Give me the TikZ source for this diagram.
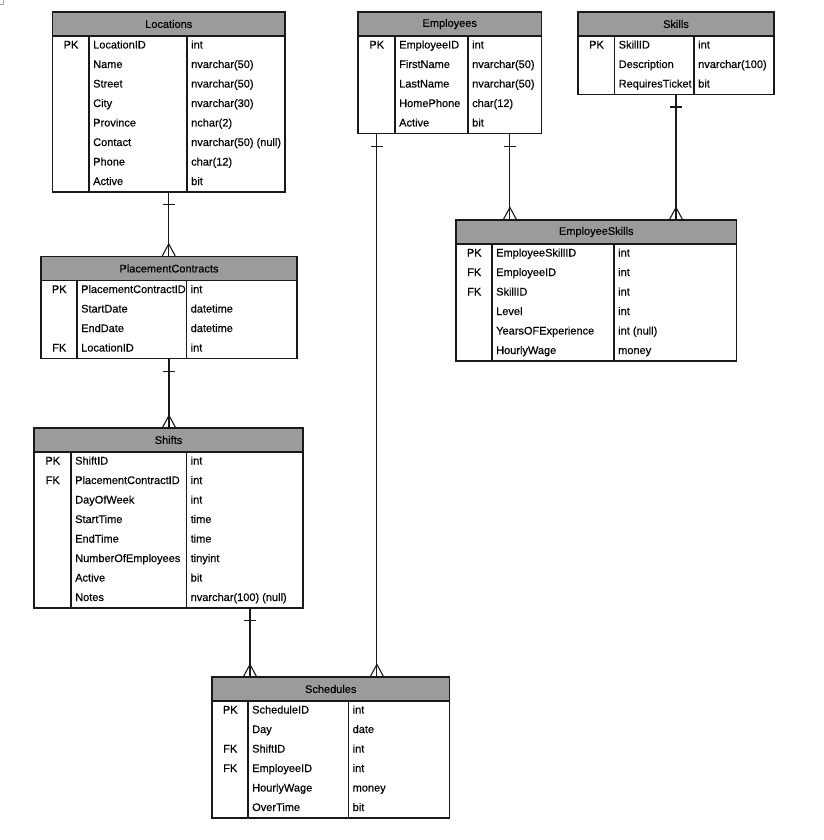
\documentclass[tikz,border=0pt]{standalone}
\usepackage{fontspec}
\setmainfont{Liberation Sans}[FakeBold=0.3]
\newfontfamily\tblfont{Liberation Sans}[FakeBold=0.3]
\usetikzlibrary{calc}
\definecolor{hdrgray}{RGB}{155,155,155}
\definecolor{ln}{RGB}{25,25,25}
\tikzset{
  hdr/.style={draw=ln, line width=1.1pt, fill=hdrgray, inner sep=0pt, font=\tblfont\fontsize{11}{13}\selectfont},
  tbody/.style={draw=ln, line width=1.1pt, fill=white, inner sep=0pt},
  cell/.style={inner sep=0pt, font=\tblfont\fontsize{11}{13}\selectfont, text height=8pt, text depth=2.5pt},
  rel/.style={draw=ln, line width=1.1pt},
  divline/.style={draw=ln, line width=1.1pt},
}
% #1 name, #2 left, #3 right, #4 top, #5 div1, #6 div2, #7 title, #8 nrows, #9 rows
\newcommand\ertable[9]{%
  \pgfmathsetmacro\tw{#3-#2}%
  \pgfmathsetmacro\cx{(#2+#3)/2}%
  \pgfmathsetmacro\bh{#8*19.5}%
  \pgfmathsetmacro\by{-(#4+24+\bh/2)}%
  \pgfmathsetmacro\hy{-(#4+12)}%
  \pgfmathsetmacro\kx{(#2+#5)/2}%
  \node[tbody, minimum width=\tw pt, minimum height=\bh pt] (#1b) at (\cx,\by) {};
  \node[hdr, minimum width=\tw pt, minimum height=24pt] (#1h) at (\cx,\hy) {#7};
  \draw[divline] ($(#1b.north west)+(#5-#2,0)$) -- ($(#1b.south west)+(#5-#2,0)$);
  \draw[divline] ($(#1b.north west)+(#6-#2,0)$) -- ($(#1b.south west)+(#6-#2,0)$);
  \foreach \ky/\nm/\ty [count=\i] in {#9} {
    \pgfmathsetmacro\ry{-(#4+24+9.75+(\i-1)*19.5)}
    \node[cell] (#1k\i) at (\kx,\ry) {\ky};
    \node[cell, anchor=west] (#1n\i) at (#5+3.5,\ry) {\nm};
    \node[cell, anchor=west] (#1t\i) at (#6+3.5,\ry) {\ty};
  }
}
% #1 one-end (top), #2 many-end (bottom)
\newcommand\relvert[2]{%
  \draw[rel] (#1) -- (#2);
  \draw[rel] ($(#1)+(-6,-12)$) -- ++(12,0);
  \draw[rel] ($(#2)+(-6.5,0)$) -- ($(#2)+(0,12)$) -- ($(#2)+(6.5,0)$);
}
\begin{document}
\begin{tikzpicture}[x=1pt,y=1pt]
\useasboundingbox (0,0) rectangle (823,-840);
\fill[white] (0,0) rectangle (823,-840);
\draw[gray!70, line width=0.7pt] (0,-4.5) -- (3,-4.5) -- (3,0);

\ertable{loc}{52.5}{285}{12}{89.5}{187.5}{Locations}{8}{PK/LocationID/int, /Name/nvarchar(50), /Street/nvarchar(50), /City/nvarchar(30), /Province/nchar(2), /Contact/{nvarchar(50) (null)}, /Phone/char(12), /Active/bit}
\ertable{emp}{358}{541.5}{12}{395.5}{468.5}{Employees}{5}{PK/EmployeeID/int, /FirstName/nvarchar(50), /LastName/nvarchar(50), /HomePhone/char(12), /Active/bit}
\ertable{sk}{578}{774}{12}{615}{694.5}{Skills}{3}{PK/SkillID/int, /Description/nvarchar(100), /RequiresTicket/bit}
\ertable{pc}{41}{297}{256.5}{77.5}{187}{PlacementContracts}{4}{PK/PlacementContractID/int, /StartDate/datetime, /EndDate/datetime, FK/LocationID/int}
\ertable{sh}{34}{303}{428}{71.5}{187}{Shifts}{8}{PK/ShiftID/int, FK/PlacementContractID/int, /DayOfWeek/int, /StartTime/time, /EndTime/time, /NumberOfEmployees/tinyint, /Active/bit, /Notes/{nvarchar(100) (null)}}
\ertable{es}{456}{736.5}{220}{492.5}{614.5}{EmployeeSkills}{6}{PK/EmployeeSkillID/int, FK/EmployeeID/int, FK/SkillID/int, /Level/int, /YearsOFExperience/{int (null)}, /HourlyWage/money}
\ertable{sc}{212}{449.5}{677}{248.5}{349}{Schedules}{6}{PK/ScheduleID/int, /Day/date, FK/ShiftID/int, FK/EmployeeID/int, /HourlyWage/money, /OverTime/bit}

\coordinate (r1a) at (locb.south);
\coordinate (r1b) at (locb.south |- pch.north);
\coordinate (r2a) at (pcb.south);
\coordinate (r2b) at (pcb.south |- shh.north);
\coordinate (r3a) at ($(shb.south)+(81.5,0)$);
\coordinate (r3b) at (r3a |- sch.north);
\coordinate (r4a) at ($(empb.south)+(-72.85,0)$);
\coordinate (r4b) at (r4a |- sch.north);
\coordinate (r5a) at ($(empb.south)+(60.15,0)$);
\coordinate (r5b) at (r5a |- esh.north);
\coordinate (r6a) at (skb.south);
\coordinate (r6b) at (skb.south |- esh.north);
\relvert{r1a}{r1b}
\relvert{r2a}{r2b}
\relvert{r3a}{r3b}
\relvert{r4a}{r4b}
\relvert{r5a}{r5b}
\relvert{r6a}{r6b}
\end{tikzpicture}
\end{document}
